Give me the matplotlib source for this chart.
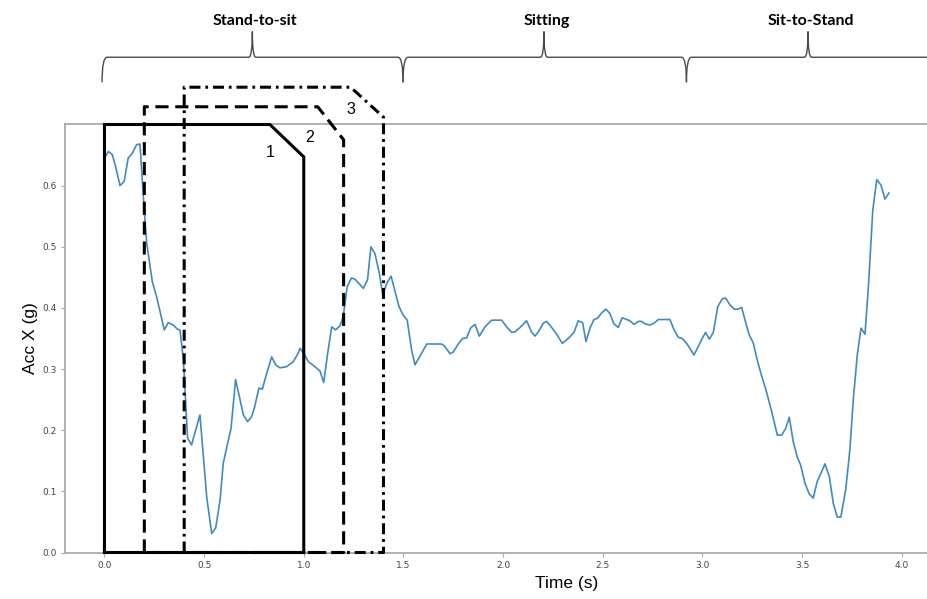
import matplotlib
matplotlib.use("Agg")
import matplotlib.pyplot as plt
from matplotlib.path import Path
from matplotlib.patches import PathPatch
import numpy as np

# ---- data ----
time_s = [0.008, 0.019, 0.039, 0.056, 0.078, 0.099, 0.119, 0.140, 0.161, 0.178,
          0.195, 0.212, 0.240, 0.262, 0.300, 0.320, 0.345, 0.367, 0.379, 0.396,
          0.417, 0.437, 0.479, 0.513, 0.538, 0.558, 0.580, 0.596, 0.635, 0.658,
          0.697, 0.718, 0.738, 0.752, 0.775, 0.792, 0.814, 0.839, 0.859, 0.881,
          0.914, 0.947, 0.972, 0.981, 1.003, 1.023, 1.048, 1.081, 1.100, 1.120,
          1.140, 1.160, 1.182, 1.198, 1.218, 1.240, 1.257, 1.282, 1.299, 1.320,
          1.337, 1.357, 1.379, 1.396, 1.416, 1.438, 1.458, 1.478, 1.499, 1.519,
          1.541, 1.558, 1.583, 1.617, 1.650, 1.692, 1.708, 1.734, 1.750, 1.775,
          1.797, 1.817, 1.837, 1.859, 1.881, 1.909, 1.943, 1.993, 2.018, 2.043,
          2.060, 2.085, 2.118, 2.144, 2.160, 2.177, 2.202, 2.219, 2.244, 2.269,
          2.297, 2.327, 2.356, 2.377, 2.399, 2.416, 2.436, 2.456, 2.473, 2.495,
          2.516, 2.536, 2.556, 2.578, 2.598, 2.620, 2.636, 2.657, 2.678, 2.695,
          2.712, 2.737, 2.757, 2.779, 2.837, 2.857, 2.879, 2.899, 2.921, 2.937,
          2.958, 2.979, 2.999, 3.016, 3.035, 3.055, 3.077, 3.100, 3.117, 3.138,
          3.160, 3.180, 3.197, 3.214, 3.235, 3.255, 3.275, 3.298, 3.319, 3.348,
          3.376, 3.398, 3.418, 3.436, 3.456, 3.476, 3.493, 3.515, 3.536, 3.556,
          3.576, 3.598, 3.615, 3.637, 3.657, 3.677, 3.695, 3.720, 3.740, 3.757,
          3.777, 3.796, 3.816, 3.833, 3.855, 3.875, 3.896, 3.916, 3.936]
acc_x = [0.649, 0.656, 0.651, 0.631, 0.600, 0.607, 0.645, 0.653, 0.667, 0.668,
         0.582, 0.506, 0.443, 0.418, 0.364, 0.376, 0.372, 0.365, 0.364, 0.315,
         0.187, 0.176, 0.225, 0.091, 0.031, 0.040, 0.086, 0.146, 0.203, 0.283,
         0.225, 0.214, 0.222, 0.236, 0.269, 0.267, 0.293, 0.320, 0.307, 0.302,
         0.304, 0.312, 0.326, 0.334, 0.324, 0.312, 0.306, 0.297, 0.278, 0.326,
         0.369, 0.364, 0.371, 0.386, 0.435, 0.449, 0.447, 0.438, 0.432, 0.446,
         0.500, 0.489, 0.457, 0.421, 0.440, 0.452, 0.427, 0.402, 0.388, 0.380,
         0.331, 0.307, 0.321, 0.341, 0.341, 0.341, 0.337, 0.325, 0.328, 0.341,
         0.350, 0.351, 0.367, 0.373, 0.354, 0.369, 0.380, 0.380, 0.369, 0.360,
         0.361, 0.368, 0.379, 0.360, 0.354, 0.361, 0.375, 0.378, 0.368, 0.357,
         0.342, 0.350, 0.360, 0.379, 0.376, 0.345, 0.367, 0.381, 0.383, 0.392,
         0.398, 0.391, 0.374, 0.368, 0.384, 0.381, 0.379, 0.373, 0.378, 0.378,
         0.374, 0.372, 0.375, 0.381, 0.381, 0.365, 0.352, 0.350, 0.342, 0.334,
         0.323, 0.337, 0.350, 0.360, 0.349, 0.360, 0.402, 0.415, 0.416, 0.405,
         0.398, 0.398, 0.401, 0.380, 0.356, 0.343, 0.315, 0.288, 0.266, 0.230,
         0.192, 0.192, 0.203, 0.221, 0.181, 0.156, 0.143, 0.113, 0.096, 0.089,
         0.116, 0.132, 0.145, 0.124, 0.080, 0.058, 0.058, 0.105, 0.168, 0.249,
         0.323, 0.367, 0.357, 0.435, 0.560, 0.610, 0.601, 0.578, 0.588]

# windows: label, start, end, top level, chamfer start x, chamfer end y
win_labels = ["1", "2", "3"]
win_start = [0.0, 0.2, 0.4]
win_end = [1.0, 1.2, 1.4]
win_top = [0.700, 0.729, 0.761]
win_cut_x = [0.83, 1.07, 1.235]
win_cut_y = [0.647, 0.675, 0.712]
win_label_pos = [(0.83, 0.655), (1.031, 0.678), (1.237, 0.724)]

# phases: name, start, end, brace peak
phase_names = ["Stand-to-sit", "Sitting", "Sit-to-Stand"]
phase_start = [-0.012, 1.498, 2.92]
phase_end = [1.498, 2.92, 4.6]
phase_peak = [0.742, 2.205, 3.53]

xticks = [0.0, 0.5, 1.0, 1.5, 2.0, 2.5, 3.0, 3.5, 4.0]
yticks = [0.0, 0.1, 0.2, 0.3, 0.4, 0.5, 0.6]

# ---- figure ----
fig = plt.figure(figsize=(9.27, 5.99), dpi=100)
ax = fig.add_axes([65 / 927, 46.5 / 599, 1 - 65 / 927, 428 / 599])
ax.set_xlim(-0.198, 4.127)
ax.set_ylim(0, 0.7)

spine_col = "#aaaaaa"
for s in ["left", "bottom", "top"]:
    ax.spines[s].set_color(spine_col)
    ax.spines[s].set_linewidth(1.3)
ax.spines["right"].set_visible(False)

ax.set_xticks(xticks)
ax.set_yticks(yticks)
ax.set_xticklabels([f"{v:.1f}" for v in xticks])
ax.set_yticklabels([f"{v:.1f}" for v in yticks])
ax.tick_params(axis="both", labelsize=6.5, labelcolor="#444444", color=spine_col,
               length=3, width=0.8, pad=3)

ax.plot(time_s, acc_x, color="#3f8ac6", lw=1.2, zorder=2)

# windows
styles = ["-", (0, (4.3, 2.2)), (0, (3.6, 1.6, 0.9, 1.6))]
for i in range(3):
    xs = [win_start[i], win_start[i], win_cut_x[i], win_end[i], win_end[i], win_start[i]]
    ys = [0.0, win_top[i], win_top[i], win_cut_y[i], 0.0, 0.0]
    ax.plot(xs, ys, color="black", lw=2.2, ls=styles[i], clip_on=False,
            zorder=5 - i, solid_joinstyle="miter", dash_capstyle="butt")
    lx, ly = win_label_pos[i]
    ax.text(lx, ly, win_labels[i], fontsize=11.5, family="Liberation Sans",
            ha="center", va="center", clip_on=False, zorder=6)

# braces
y_line, y_tip, y_top = 0.810, 0.769, 0.852
w_end, w_pk = 0.025, 0.018
for name, x0, x1, xm in zip(phase_names, phase_start, phase_end, phase_peak):
    verts = [(x0, y_tip), (x0, y_line), (x0 + w_end, y_line),
             (xm - w_pk, y_line), (xm, y_line), (xm, y_top),
             (xm, y_line), (xm + w_pk, y_line),
             (x1 - w_end, y_line), (x1, y_line), (x1, y_tip)]
    codes = [Path.MOVETO, Path.CURVE3, Path.CURVE3,
             Path.LINETO, Path.CURVE3, Path.CURVE3,
             Path.CURVE3, Path.CURVE3,
             Path.LINETO, Path.CURVE3, Path.CURVE3]
    patch = PathPatch(Path(verts, codes), fill=False, edgecolor="#4a4a4a", lw=1.0,
                      clip_on=False, transform=ax.transData)
    ax.add_patch(patch)
    ax.text(xm + 0.012, 0.870, name, fontsize=11.5, fontweight="bold", family="Lato",
            ha="center", va="center", clip_on=False)

ax.set_xlabel("Time (s)", fontsize=12.5, family="Liberation Sans")
ax.set_ylabel("Acc X (g)", fontsize=12.5, family="Liberation Sans")
ax.xaxis.set_label_coords(0.582, -0.054)
ax.yaxis.set_label_coords(-0.031, 0.5)

fig.savefig("out.png", dpi=100)
